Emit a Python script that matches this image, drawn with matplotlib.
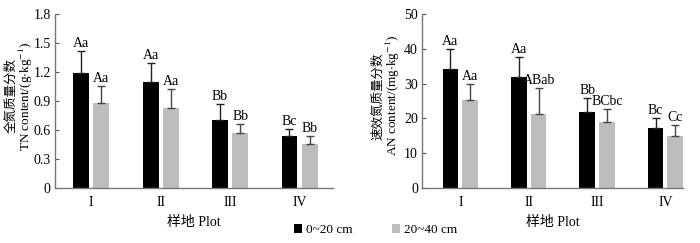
import numpy as np
import matplotlib
matplotlib.use('Agg')
from matplotlib import pyplot as plt
from matplotlib.patches import Patch

plt.rcParams['font.family'] = ['Liberation Serif', 'Noto Sans CJK SC']
plt.rcParams['mathtext.fontset'] = 'stix'

plots = ['I', 'II', 'III', 'IV']
layers = ['0~20 cm', '20~40 cm']

tnMean = [[1.19, 1.10, 0.70, 0.54], [0.88, 0.83, 0.57, 0.46]]
tnErr = [[0.23, 0.19, 0.17, 0.07], [0.18, 0.20, 0.09, 0.08]]
tnLbl = [['Aa', 'Aa', 'Bb', 'Bc'], ['Aa', 'Aa', 'Bb', 'Bb']]

anMean = [[34.2, 32.0, 21.9, 17.4], [25.3, 21.4, 18.9, 15.0]]
anErr = [[5.8, 5.6, 4.0, 2.7], [4.7, 7.4, 3.9, 3.2]]
anLbl = [['Aa', 'Aa', 'Bb', 'Bc'], ['Aa', 'ABab', 'BCbc', 'Cc']]

colors = ['black', '#bdbdbd']
errColors = ['#222222', '#444444']


def drawPanel(ax, means, errs, lbls, yticks, ylabelCn, ylabelEn, xlim, txtOff, lblX):
  x = np.arange(len(plots))
  w = 0.23
  offs = [-0.145, 0.145]
  for i in range(2):
    ax.bar(x + offs[i], means[i], w, color=colors[i], zorder=2)
    ax.errorbar(x + offs[i], means[i], yerr=[np.zeros(4), errs[i]], fmt='none',
                ecolor=errColors[i], elinewidth=1, capsize=3, capthick=1, zorder=3)
    for j in range(len(plots)):
      ax.text(x[j] + offs[i], means[i][j] + errs[i][j] + txtOff, lbls[i][j],
              ha='center', va='bottom', fontsize=10)
  ax.set_xlim(*xlim)
  ax.set_ylim(yticks[0], yticks[-1])
  ax.set_yticks(yticks)
  ax.set_yticklabels(['0'] + ['%g' % t if t >= 10 else '%.1f' % t for t in yticks[1:]])
  ax.set_xticks(x)
  ax.set_xticklabels(plots, fontsize=10)
  ax.tick_params(axis='y', direction='in', length=3, labelsize=10, color='#555555', pad=3)
  ax.tick_params(axis='x', length=0, pad=6)
  for s in ['top', 'right']:
    ax.spines[s].set_visible(False)
  for s in ['left', 'bottom']:
    ax.spines[s].set_color('#777777')
    ax.spines[s].set_linewidth(1)
  ax.set_xlabel('样地 Plot', fontsize=10, labelpad=5)
  ax.text(lblX[0], 0.53, ylabelCn, transform=ax.transAxes, rotation=90,
          ha='center', va='center', fontsize=9)
  ax.text(lblX[1], 0.53, ylabelEn, transform=ax.transAxes, rotation=90,
          ha='center', va='center', fontsize=9.5)


fig = plt.figure(figsize=(7, 2.43), dpi=100)
ax1 = fig.add_axes([0.0786, 0.226, 0.397, 0.716])
ax2 = fig.add_axes([0.603, 0.226, 0.373, 0.716])

drawPanel(ax1, tnMean, tnErr, tnLbl, [0, 0.3, 0.6, 0.9, 1.2, 1.5, 1.8],
          '全氮质量分数', r'TN content/(g$\cdot$kg$^{-1}$)', (-0.52, 3.48), 0.01,
          (-0.158, -0.106))
drawPanel(ax2, anMean, anErr, anLbl, [0, 10, 20, 30, 40, 50],
          '速效氮质量分数', r'AN content/(mg$\cdot$kg$^{-1}$)', (-0.56, 3.26), 0.3,
          (-0.17, -0.11))

handles = [Patch(facecolor=c) for c in colors]
fig.legend(handles, layers, loc='center', bbox_to_anchor=(0.537, 0.055), ncol=2,
           frameon=False, fontsize=9.5, handlelength=0.6, handleheight=0.7,
           handletextpad=0.3, columnspacing=3.0)

fig.savefig('out.png', dpi=100)
